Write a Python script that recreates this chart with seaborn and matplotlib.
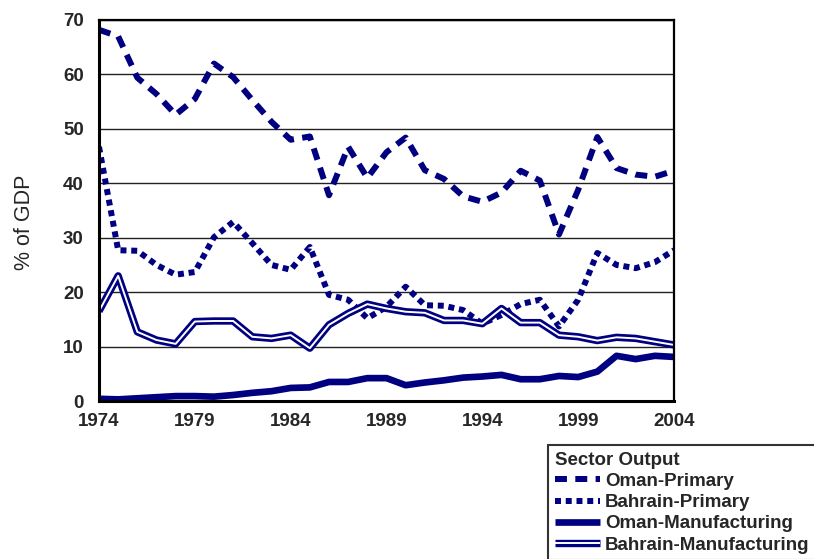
import numpy as np
import pandas as pd
import matplotlib
matplotlib.use("Agg")
import matplotlib.pyplot as plt
import matplotlib.patheffects as pe
from matplotlib.lines import Line2D
import seaborn as sns

# data (% of GDP)
years = list(range(1974, 2005))
oman_primary = [68.2, 67.0, 59.4, 56.4, 52.6, 55.5, 62.0, 59.5, 55.3, 51.3,
                48.0, 48.6, 37.8, 46.7, 41.0, 45.7, 48.4, 42.4, 40.8, 37.6,
                36.6, 38.3, 42.3, 40.5, 30.6, 38.8, 48.5, 42.8, 41.6, 41.2, 42.3]
bahrain_primary = [46.7, 27.7, 27.6, 25.0, 23.2, 23.7, 30.1, 32.9, 29.0, 25.0,
                   24.1, 28.3, 19.5, 18.6, 15.2, 17.3, 21.0, 17.6, 17.5, 16.7,
                   14.2, 15.8, 17.8, 18.6, 13.7, 18.6, 27.2, 25.0, 24.4, 25.5, 27.7]
oman_mfg = [0.4, 0.3, 0.5, 0.7, 0.9, 0.9, 0.8, 1.1, 1.5, 1.8,
            2.4, 2.5, 3.5, 3.5, 4.2, 4.2, 2.9, 3.4, 3.8, 4.3,
            4.5, 4.8, 4.0, 4.0, 4.6, 4.4, 5.4, 8.3, 7.7, 8.3, 8.1]
bahrain_mfg = [16.5, 23.0, 12.7, 11.2, 10.5, 14.6, 14.7, 14.7, 11.8, 11.5,
               12.1, 9.7, 14.0, 16.1, 17.8, 17.0, 16.4, 16.2, 14.8, 14.8,
               14.2, 17.0, 14.4, 14.4, 12.1, 11.8, 11.1, 11.7, 11.5, 10.9, 10.3]
series_names = ["Oman-Primary", "Bahrain-Primary",
                "Oman-Manufacturing", "Bahrain-Manufacturing"]
xtick_years = [1974, 1979, 1984, 1989, 1994, 1999, 2004]
ytick_values = [0, 10, 20, 30, 40, 50, 60, 70]

df = pd.DataFrame({
    "year": years,
    "Oman-Primary": oman_primary,
    "Bahrain-Primary": bahrain_primary,
    "Oman-Manufacturing": oman_mfg,
    "Bahrain-Manufacturing": bahrain_mfg,
})

sns.set_style("white")
plt.rcParams["font.family"] = ["Liberation Sans", "DejaVu Sans"]

NAVY = "#000080"
FS = 13.5

fig = plt.figure(figsize=(8.14, 5.59), dpi=100)
ax = fig.add_axes([99 / 814, 1 - 401 / 559, 575 / 814, 381 / 559])

styles = {
    "Oman-Primary": dict(color=NAVY, lw=4.3, linestyle=(0, (2.0, 1.4)),
                         dash_capstyle="butt"),
    "Bahrain-Primary": dict(color=NAVY, lw=4.3, linestyle=(0, (1.0, 0.8)),
                            dash_capstyle="butt"),
    "Oman-Manufacturing": dict(color=NAVY, lw=4.8, solid_capstyle="butt"),
    "Bahrain-Manufacturing": dict(
        color="white", lw=1.4, solid_capstyle="butt",
        path_effects=[pe.Stroke(linewidth=5.3, foreground=NAVY), pe.Normal()]),
}

for name in series_names:
    sns.lineplot(data=df, x="year", y=name, ax=ax, **styles[name])

ax.set_xlim(1974, 2004)
ax.set_ylim(0, 70)
ax.set_xticks(xtick_years)
ax.set_yticks(ytick_values)
ax.set_xticklabels([str(y) for y in xtick_years], fontsize=FS, fontweight="bold")
ax.set_yticklabels([str(v) for v in ytick_values], fontsize=FS, fontweight="bold")
ax.tick_params(axis="x", direction="in", length=6, width=1, color="#555555", pad=9)
ax.tick_params(axis="y", length=0, pad=11)

ax.yaxis.grid(True, color="#222222", lw=1)
ax.xaxis.grid(False)
ax.set_axisbelow(True)

for side in ["left", "bottom"]:
    ax.spines[side].set_linewidth(2.2)
for side in ["top", "right"]:
    ax.spines[side].set_linewidth(1.6)
for s in ax.spines.values():
    s.set_color("black")
    s.set_visible(True)

ax.set_xlabel("")
ax.set_ylabel("% of GDP", fontsize=15.5)
ax.yaxis.set_label_coords(-0.111, 0.47)

# legend below-right, outside the axes
handles = [Line2D([0], [0], **styles[name]) for name in series_names]
leg = fig.legend(handles, series_names, title="Sector Output",
                 loc="upper left", bbox_to_anchor=(548 / 814, 1 - 445 / 559),
                 bbox_transform=fig.transFigure, borderaxespad=0,
                 frameon=True, fancybox=False, edgecolor="black",
                 borderpad=0.35, labelspacing=0.22, handlelength=2.4,
                 handletextpad=0.3, alignment="left",
                 prop={"weight": "bold", "size": FS},
                 title_fontproperties={"weight": "bold", "size": FS})
leg.get_frame().set_linewidth(1.5)

fig.savefig("out.png", dpi=100)
